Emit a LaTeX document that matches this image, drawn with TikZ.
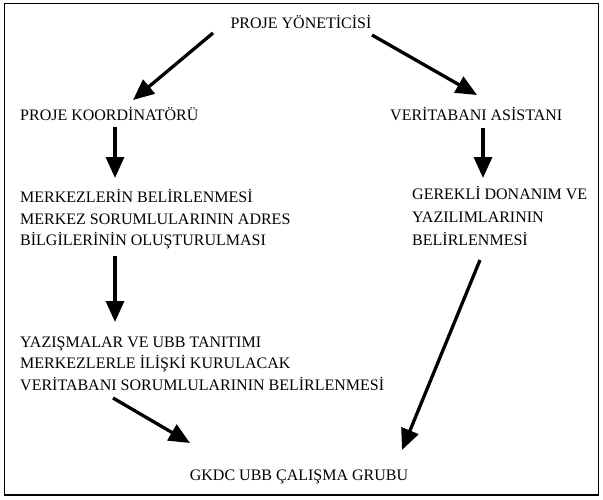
\documentclass[tikz,border=0pt]{standalone}
\usepackage{fontspec}
\setmainfont{Liberation Serif}
\usetikzlibrary{arrows.meta}
\begin{document}
\begin{tikzpicture}[x=1pt,y=-1pt,
  lbl/.style={inner sep=0pt, anchor=base west, font=\fontsize{16}{20}\selectfont},
  arr/.style={line width=3.3pt, -{Triangle[length=21pt,width=18pt]}},
  frame/.style={line width=1.5pt}]
\useasboundingbox (0,0) rectangle (603,499);
\draw[frame] (4.5,3.5) rectangle (598.5,495);
\node[lbl, anchor=base] (top) at (301,28) {PROJE YÖNETİCİSİ};
\node[lbl] (koord) at (20,120) {PROJE KOORDİNATÖRÜ};
\node[lbl] (asist) at (390,120) {VERİTABANI ASİSTANI};
\node[lbl] (m1) at (20,202) {MERKEZLERİN BELİRLENMESİ};
\node[lbl] (m2) at (20,224) {MERKEZ SORUMLULARININ ADRES};
\node[lbl] (m3) at (20,245) {BİLGİLERİNİN OLUŞTURULMASI};
\node[lbl] (g1) at (412,199) {GEREKLİ DONANIM VE};
\node[lbl] (g2) at (412,222) {YAZILIMLARININ};
\node[lbl] (g3) at (412,245) {BELİRLENMESİ};
\node[lbl] (y1) at (20,347) {YAZIŞMALAR VE UBB TANITIMI};
\node[lbl] (y2) at (20,368) {MERKEZLERLE İLİŞKİ KURULACAK};
\node[lbl] (y3) at (20,390) {VERİTABANI SORUMLULARININ BELİRLENMESİ};
\node[lbl, anchor=base] (bot) at (299,480) {GKDC UBB ÇALIŞMA GRUBU};
\draw[arr] ([shift={(-88,5)}]top.base) -- ([shift={(113,-20)}]koord.base west);
\draw[arr] ([shift={(71,7)}]top.base) -- ([shift={(87,-25)}]asist.base west);
\draw[arr] ([shift={(95,7)}]koord.base west) -- ([shift={(95,-24)}]m1.base west);
\draw[arr] ([shift={(93,8)}]asist.base west) -- ([shift={(93,-21)}]asist.base west |- g1.base west);
\draw[arr] ([shift={(95,11)}]m3.base west) -- ([shift={(95,-25)}]y1.base west);
\draw[arr] ([shift={(68,15)}]g3.base west) -- ([shift={(103,-30)}]bot.base);
\draw[arr] ([shift={(93,8)}]y3.base west) -- ([shift={(-109,-37)}]bot.base);
\end{tikzpicture}
\end{document}
